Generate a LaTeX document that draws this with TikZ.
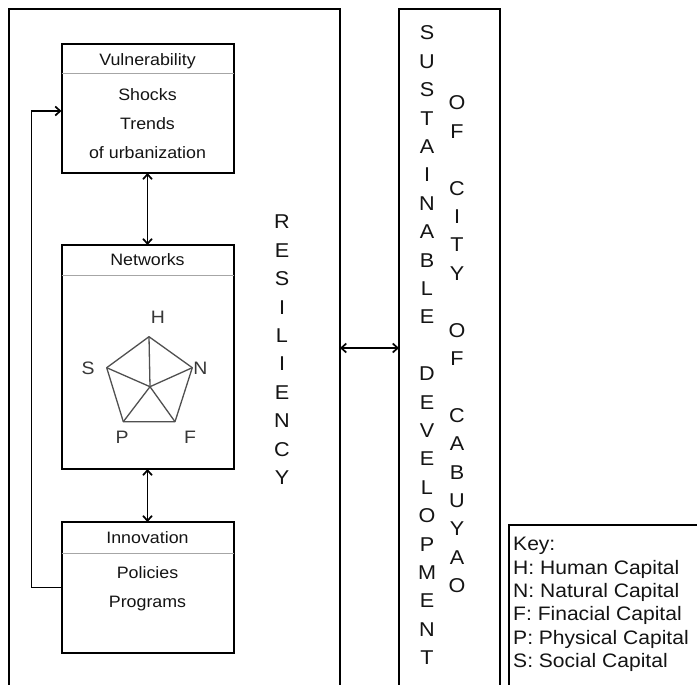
\documentclass[tikz,border=0pt]{standalone}
\usepackage{fontspec}
\setmainfont[FakeStretch=1.08]{Liberation Sans}
\usetikzlibrary{arrows.meta}
\definecolor{ink}{HTML}{141414}
\definecolor{netgray}{HTML}{505050}
\begin{document}
\begin{tikzpicture}[x=1pt,y=-1pt,
  frame/.style={line width=2pt, draw=black},
  panel/.style={draw=black, line width=2pt, minimum width=172pt, inner sep=0pt, outer sep=0pt},
  sepline/.style={draw=gray!70, line width=0.9pt},
  boxtxt/.style={text=ink, font=\fontsize{16.5}{20}\selectfont, anchor=base, inner sep=0pt},
  bigletter/.style={text=ink, font=\fontsize{20}{24}\selectfont, inner sep=0pt},
  duo/.style={{Straight Barb[length=5pt,width=9pt]}-{Straight Barb[length=5pt,width=9pt]}, line width=1.7pt},
  single/.style={-{Straight Barb[length=5pt,width=9pt]}, line width=1.7pt},
  pent/.style={draw=netgray, line width=1.3pt, line join=round},
  plab/.style={text=ink!85, font=\fontsize{18}{20}\selectfont, inner sep=0pt}
]
\useasboundingbox (0,0) rectangle (697,685);
\fill[white] (0,0) rectangle (697,685);

% outer frames
\draw[frame] (9,686) -- (9,9) -- (340,9) -- (340,686);
\draw[frame] (399,686) -- (399,9) -- (500,9) -- (500,686);
\draw[frame, line width=1.5pt] (698,525) -- (509,525) -- (509,686);
\coordinate (resR) at (340,348);
\coordinate (sdL) at (399,348);
\draw[duo] (resR) -- (sdL);

% panels
\node[panel, minimum height=129pt] (vul) at (147.5,108.5) {};
\node[panel, minimum height=224pt] (netw) at (147.5,357) {};
\node[panel, minimum height=131pt] (inn) at (147.5,587.5) {};
\draw[sepline] ([yshift=-29.5pt]vul.north west) -- ([yshift=-29.5pt]vul.north east);
\draw[sepline] ([yshift=-30pt]netw.north west) -- ([yshift=-30pt]netw.north east);
\draw[sepline] ([yshift=-31pt]inn.north west) -- ([yshift=-31pt]inn.north east);

\node[boxtxt] (vulT) at (147.5,66) {Vulnerability};
\node[boxtxt] (shk) at (147.5,100.5) {Shocks};
\node[boxtxt] (trd) at (147.5,129.5) {Trends};
\node[boxtxt] (urb) at (147.5,158.5) {of urbanization};
\node[boxtxt] (netT) at (147.5,265) {Networks};
\node[boxtxt] (innT) at (147.5,543) {Innovation};
\node[boxtxt] (pol) at (147.5,578) {Policies};
\node[boxtxt] (prg) at (147.5,607.5) {Programs};

% pentagon
\coordinate (pH) at (149,336.7);
\coordinate (pN) at (192.3,367.7);
\coordinate (pF) at (175,421.7);
\coordinate (pP) at (123.3,421.7);
\coordinate (pS) at (106.7,367.7);
\coordinate (pC) at (150,386.7);
\draw[pent] (pH) -- (pN) -- (pF) -- (pP) -- (pS) -- cycle;
\foreach \v in {pH,pN,pF,pP,pS} \draw[pent] (pC) -- (\v);
\node[plab] (lH) at (158,317) {H};
\node[plab] (lN) at (200.5,368) {N};
\node[plab] (lF) at (190,437) {F};
\node[plab] (lP) at (122,437) {P};
\node[plab] (lS) at (88,368) {S};

% connectors
\draw[duo] (vul.south) -- (netw.north);
\draw[duo] (netw.south) -- (inn.north);
\draw[single] (inn.west) -- ++(-30,0) |- ([yshift=-2.5pt]vul.west);

% vertical words
\foreach \c [count=\i from 0] in {R,E,S,I,L,I,E,N,C,Y}
  \node[bigletter] (res\i) at (282, 222+\i*28.4) {\c};
\foreach \c [count=\i from 0] in {S,U,S,T,A,I,N,A,B,L,E}
  \node[bigletter] (sus\i) at (427, 33+\i*28.4) {\c};
\foreach \c [count=\i from 0] in {D,E,V,E,L,O,P,M,E,N,T}
  \node[bigletter] (dev\i) at (427, 373.8+\i*28.4) {\c};
\foreach \c [count=\i from 0] in {O,F}
  \node[bigletter] (ofa\i) at (457, 103+\i*28.4) {\c};
\foreach \c [count=\i from 0] in {C,I,T,Y}
  \node[bigletter] (cty\i) at (457, 188.2+\i*28.4) {\c};
\foreach \c [count=\i from 0] in {O,F}
  \node[bigletter] (ofb\i) at (457, 330.2+\i*28.4) {\c};
\foreach \c [count=\i from 0] in {C,A,B,U,Y,A,O}
  \node[bigletter] (cab\i) at (457, 415.4+\i*28.4) {\c};

% key
\node[anchor=north west, inner sep=0pt, align=left, text=ink, font=\fontsize{19.5}{23.4}\selectfont] (key) at (513,537)
  {Key:\\H: Human Capital\\N: Natural Capital\\F: Finacial Capital\\P: Physical Capital\\S: Social Capital};
\end{tikzpicture}
\end{document}
